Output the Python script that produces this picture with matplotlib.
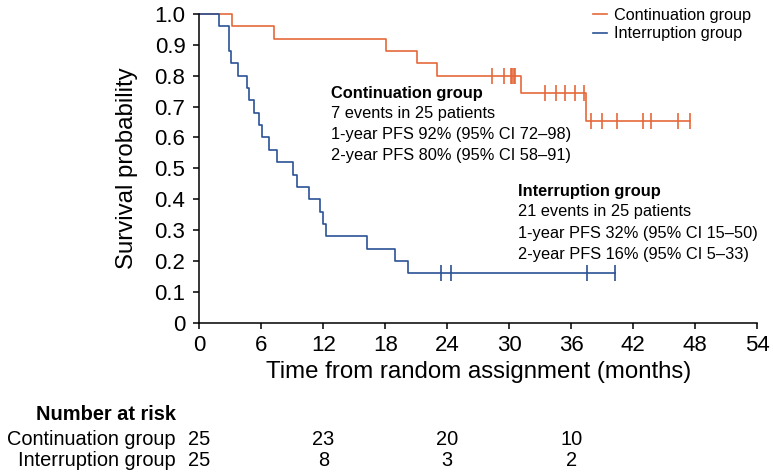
import numpy as np
import matplotlib
matplotlib.use("Agg")
import matplotlib.pyplot as plt
import matplotlib.transforms as mtransforms

plt.rcParams['font.family'] = ['Liberation Sans', 'DejaVu Sans']

# ---- data ----
cont_times = [0, 3.2, 7.2, 18.05, 21.1, 23.0, 31.1, 37.45, 47.5]
cont_surv = [1.0, 0.96, 0.92, 0.88, 0.84, 0.80, 0.745, 0.652, 0.652]
cont_censor = [28.3, 29.5, 30.2, 30.3, 30.5, 30.6, 33.5, 34.5, 35.4, 36.4,
               37.2, 37.9, 39.0, 40.4, 42.9, 43.7, 46.3, 47.5]

int_times = [0, 1.94, 2.9, 3.1, 3.7, 4.6, 4.8, 5.3, 5.8, 6.1, 6.7, 7.5, 9.06,
             9.45, 10.6, 11.65, 11.95, 12.3, 16.2, 18.9, 20.2, 40.2]
int_surv = [1.0, 0.96, 0.88, 0.84, 0.80, 0.76, 0.72, 0.68, 0.64, 0.60, 0.56,
            0.52, 0.48, 0.44, 0.40, 0.36, 0.32, 0.28, 0.24, 0.20, 0.16, 0.16]
int_censor = [23.4, 24.4, 37.5, 40.2]

risk_times = [0, 12, 24, 36]
risk_cont = [25, 23, 20, 10]
risk_int = [25, 8, 3, 2]

x_ticks = [0, 6, 12, 18, 24, 30, 36, 42, 48, 54]
y_ticks = [0, 0.1, 0.2, 0.3, 0.4, 0.5, 0.6, 0.7, 0.8, 0.9, 1.0]
y_labels = ['0', '0.1', '0.2', '0.3', '0.4', '0.5', '0.6', '0.7', '0.8', '0.9', '1.0']

ORANGE = '#e5683a'
BLUE = '#2b5296'


def surv_at(times, surv, t):
    i = np.searchsorted(times, t, side='right') - 1
    return np.asarray(surv)[i]


fig = plt.figure(figsize=(7.73, 4.74), dpi=100)
ax = fig.add_axes([0.2578, 0.3192, 0.7219, 0.6513])

# curves
ax.step(cont_times, cont_surv, where='post', color=ORANGE, lw=1.2,
        clip_on=False, label='Continuation group')
ax.step(int_times, int_surv, where='post', color=BLUE, lw=1.2,
        clip_on=False, label='Interruption group')

# censor marks
ax.plot(cont_censor, surv_at(cont_times, cont_surv, cont_censor), ls='none',
        marker='|', ms=11, mew=1.2, color=ORANGE, clip_on=False)
ax.plot(int_censor, surv_at(int_times, int_surv, int_censor), ls='none',
        marker='|', ms=11, mew=1.2, color=BLUE, clip_on=False)

ax.set_xlim(0, 54)
ax.set_ylim(0, 1.0)
ax.set_xticks(x_ticks)
ax.set_yticks(y_ticks)
ax.set_yticklabels(y_labels)
ax.spines['top'].set_visible(False)
ax.spines['right'].set_visible(False)
for s in ['left', 'bottom']:
    ax.spines[s].set_linewidth(1.1)
ax.tick_params(axis='both', labelsize=16, length=4.5, width=1.1)
ax.tick_params(axis='x', pad=4.3)
ax.tick_params(axis='y', pad=5.5)
ax.set_xlabel('Time from random assignment (months)', fontsize=17.3, labelpad=4)
ax.set_ylabel('Survival probability', fontsize=17.3, labelpad=11.5)

# annotations
FS = 11.8
x_c = 12.75
ax.text(x_c, 0.743, 'Continuation group', fontsize=FS, fontweight='bold', va='center')
cont_lines = ['7 events in 25 patients',
              '1-year PFS 92% (95% CI 72\u201398)',
              '2-year PFS 80% (95% CI 58\u201391)']
for yy, s in zip([0.678, 0.608, 0.540], cont_lines):
    ax.text(x_c, yy, s, fontsize=FS, va='center')

x_i = 30.85
ax.text(x_i, 0.424, 'Interruption group', fontsize=FS, fontweight='bold', va='center')
int_lines = ['21 events in 25 patients',
             '1-year PFS 32% (95% CI 15\u201350)',
             '2-year PFS 16% (95% CI 5\u201333)']
for yy, s in zip([0.360, 0.290, 0.2225], int_lines):
    ax.text(x_i, yy, s, fontsize=FS, va='center')

# legend
ax.legend(loc='upper right', bbox_to_anchor=(0.982, 1.0), bbox_transform=fig.transFigure,
          frameon=False, fontsize=11.7, handlelength=0.85, handletextpad=0.45,
          labelspacing=0.2, borderaxespad=0.1)

# number at risk table
RFS = 14.4
trans = mtransforms.blended_transform_factory(ax.transData, fig.transFigure)
fig.text(0.2275, 0.1245, 'Number at risk', fontsize=RFS, fontweight='bold',
         ha='right', va='center')
fig.text(0.2275, 0.0732, 'Continuation group', fontsize=RFS, ha='right', va='center')
fig.text(0.2275, 0.0295, 'Interruption group', fontsize=RFS, ha='right', va='center')
for t, a, b in zip(risk_times, risk_cont, risk_int):
    ax.text(t, 0.0732, str(a), transform=trans, fontsize=RFS, ha='center', va='center')
    ax.text(t, 0.0295, str(b), transform=trans, fontsize=RFS, ha='center', va='center')

fig.savefig('out.png', dpi=100)
